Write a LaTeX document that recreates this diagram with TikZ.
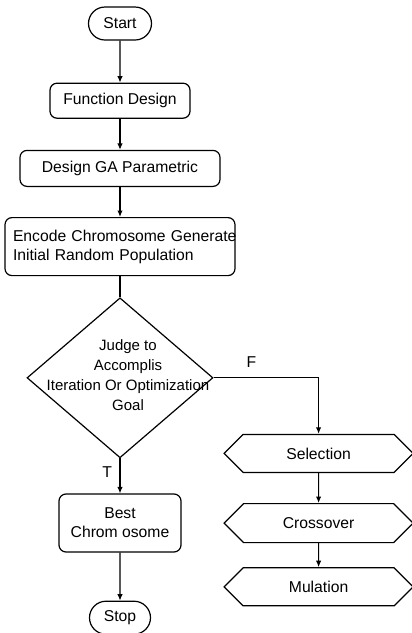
\documentclass[tikz,border=0pt]{standalone}
\usepackage{fontspec}
\setmainfont{Liberation Sans}
\usetikzlibrary{shapes.geometric, shapes.misc, shapes.symbols, arrows.meta, positioning}

\begin{document}
\begin{tikzpicture}[node distance=30pt,
    font=\fontsize{15.7}{19}\selectfont,
    terminal/.style={rounded rectangle, draw, line width=1.2pt, minimum width=67pt, minimum height=33pt, inner sep=2pt},
    block/.style={rectangle, rounded corners=7pt, draw, line width=1.2pt, minimum height=36pt, align=center},
    decision/.style={diamond, draw, line width=1.2pt, align=center, inner sep=-38pt, minimum width=186pt, minimum height=160pt, font=\fontsize{15}{20}\selectfont},
    proc/.style={signal, signal to=west and east, signal pointer angle=90, draw, line width=1.2pt, minimum width=189pt, minimum height=38pt, inner sep=2pt},
    arr/.style={line width=1.2pt, -{Latex[length=6.5pt,width=5.5pt]}},
    link/.style={line width=1.2pt}
]
\useasboundingbox (0,0) rectangle (412pt,-633pt);

% main column
\node[terminal] (start) at (120pt,-23.5pt) {Start};
\node[block, minimum width=140pt, minimum height=35pt, below=42pt of start] (design) {Function Design};
\node[block, minimum width=200pt, below=31pt of design] (param) {Design GA Parametric};
\node[block, text width=214pt, inner sep=8pt, align=left, minimum height=58pt, below=30pt of param] (encode)
    {\mbox{Encode Chromosome Generate}\\Initial Random Population};
\node[decision, text depth=40pt, below=21pt of encode] (judge)
    {\begin{tabular}{@{\hspace{16pt}}c@{}}Judge to\\Accomplis\\Iteration Or Optimization\\Goal\end{tabular}};
\node[block, minimum width=122pt, minimum height=58pt, below=35pt of judge] (best) {Best\\Chrom osome};
\node[terminal, minimum width=65pt, below=48pt of best] (stop) {Stop};

% right column
\node[proc, anchor=north] (select) at ([xshift=105pt,yshift=-56pt]judge.east) {Selection};
\node[proc, minimum height=39pt, below=30pt of select] (cross) {Crossover};
\node[proc, below=24pt of cross] (mutate) {Mulation};

\draw[arr] (start) -- (design);
\draw[arr] (design) -- (param);
\draw[arr] (param) -- (encode);
\draw[link] (encode) -- (judge);
\draw[arr] (judge) -- node[left=4pt, pos=0.4] {T} (best);
\draw[arr] (best) -- (stop);
\draw[arr] (judge.east) -| node[above=6pt, pos=0.18] {F} (select.north);
\draw[arr] (select) -- (cross);
\draw[arr] (cross) -- (mutate);

\end{tikzpicture}
\end{document}
